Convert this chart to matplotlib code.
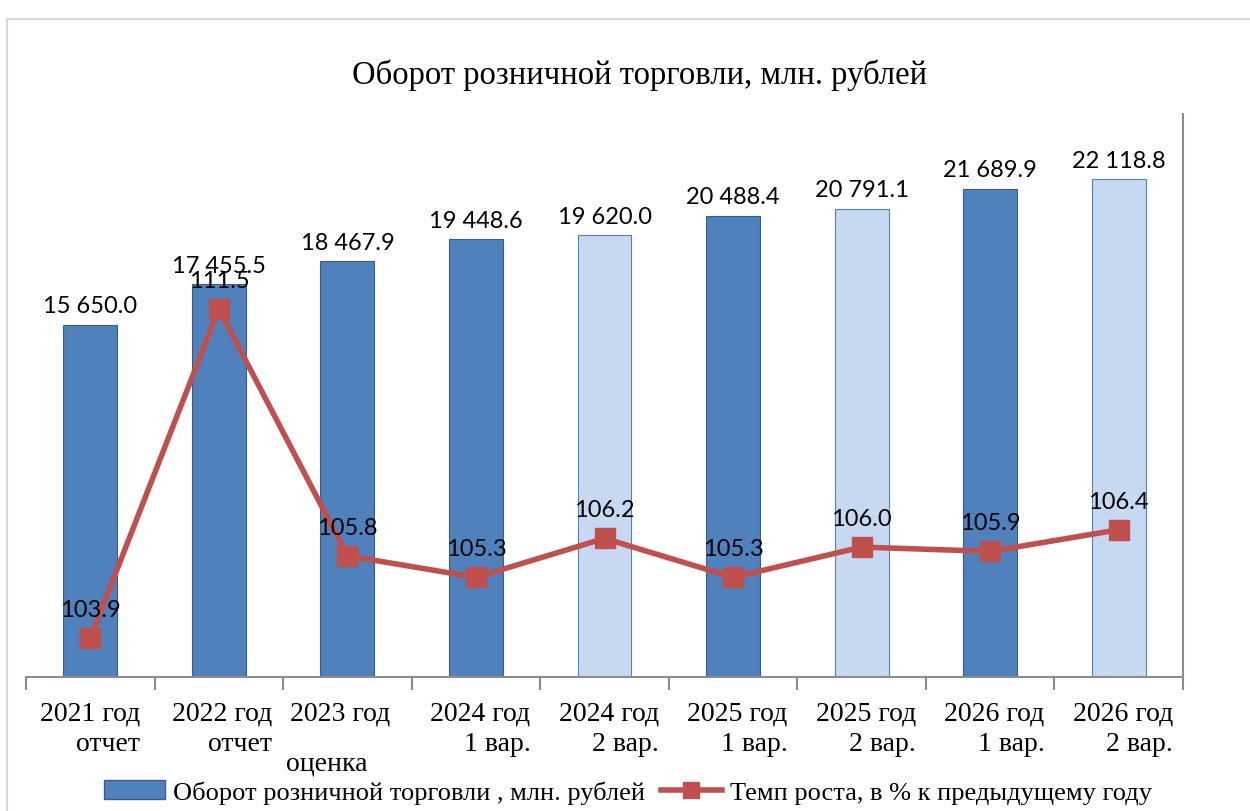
import matplotlib
matplotlib.use("Agg")
import matplotlib.pyplot as plt
import numpy as np
from matplotlib.patches import Rectangle
from matplotlib.lines import Line2D
from matplotlib.patches import Patch

categories = ["2021 год\n    отчет", "2022 год\n      отчет", "2023 год  ",
              "2024 год\n      1 вар.", "2024 год\n      2 вар.", "2025 год\n      1 вар.",
              "2025 год\n      2 вар.", "2026 год\n      1 вар.", "2026 год\n      2 вар."]
extra_label = "оценка"   # third line under "2023 год"
turnover = [15650.0, 17455.5, 18467.9, 19448.6, 19620.0, 20488.4, 20791.1, 21689.9, 22118.8]
growth = [103.9, 111.5, 105.8, 105.3, 106.2, 105.3, 106.0, 105.9, 106.4]
is_variant2 = [False, False, False, False, True, False, True, False, True]

DARK = "#4F81BD"
DARK_EDGE = "#385D8A"
LIGHT = "#C6D9F1"
LIGHT_EDGE = "#4F81BD"
RED = "#C0504D"
SERIF = "Liberation Serif"
SANS = "Lato"

fig = plt.figure(figsize=(12.5, 8.12), dpi=100)
# chart border
fig.patches.append(Rectangle((7/1250, -0.1), 1.2, 1 - 20/812 + 0.1, transform=fig.transFigure,
                             fill=False, edgecolor="#D9D9D9", linewidth=1.5))

ax = fig.add_axes([26/1250, 1 - 678/812, (1183-26)/1250, (678-115)/812])
x = np.arange(len(turnover))
colors = [LIGHT if v else DARK for v in is_variant2]
edges = [LIGHT_EDGE if v else DARK_EDGE for v in is_variant2]
ax.bar(x, turnover, width=0.42, color=colors, edgecolor=edges, linewidth=0.8, zorder=2)
ax.set_xlim(-0.5, len(x) - 0.5)
ax.set_ylim(0, 25000)
ax.set_yticks([])
for s in ["left", "top", "right"]:
    ax.spines[s].set_visible(False)
ax.spines["bottom"].set_color("#8C8C8C")
ax.spines["bottom"].set_linewidth(1.5)
ax.set_xticks(x)
ax.set_xticklabels(categories, fontfamily=SERIF, fontsize=20, multialignment="right", linespacing=1.3)
ax.tick_params(axis="x", which="major", length=0, pad=17)
ax.set_xticks(np.arange(-0.5, len(x), 1), minor=True)
ax.tick_params(axis="x", which="minor", length=9, width=1.5, color="#8C8C8C")
ax.annotate(extra_label, (2, 0), xycoords=("data", "axes fraction"), xytext=(-15, -62),
            textcoords="offset points", ha="center", va="center", fontfamily=SERIF, fontsize=20,
            annotation_clip=False)

for xi, v in zip(x, turnover):
    s = f"{v:,.1f}".replace(",", " ")
    ax.annotate(s, (xi, v), xytext=(0, 6), textcoords="offset points", ha="center", va="bottom",
                fontfamily=SANS, fontsize=17, zorder=5)

ax2 = ax.twinx()
ax2.set_ylim(103, 116)
ax2.set_yticks([])
for s in ["left", "top", "bottom"]:
    ax2.spines[s].set_visible(False)
ax2.spines["right"].set_color("#8C8C8C")
ax2.spines["right"].set_linewidth(1.5)
ax2.plot(x, growth, color=RED, linewidth=4, marker="s", markersize=14, zorder=3)
for xi, v in zip(x, growth):
    ax2.annotate(f"{v:.1f}", (xi, v), xytext=(0, 13), textcoords="offset points", ha="center",
                 va="bottom", fontfamily=SANS, fontsize=17, zorder=5)

fig.text(640/1250, 1 - 75/812, "Оборот розничной торговли, млн. рублей", ha="center", va="center",
         fontfamily=SERIF, fontsize=23.5)

handles = [Patch(facecolor=DARK, edgecolor=DARK_EDGE),
           Line2D([0], [0], color=RED, linewidth=4, marker="s", markersize=12)]
fig.legend(handles, ["Оборот розничной торговли , млн. рублей", "Темп роста, в % к предыдущему году"],
           loc="center", bbox_to_anchor=(628/1250, 1 - 793/812), ncol=2, frameon=False,
           prop={"family": SERIF, "size": 19}, handlelength=2.3, handletextpad=0.3, columnspacing=0.6,
           borderpad=0)

fig.savefig("out.png", dpi=100)
